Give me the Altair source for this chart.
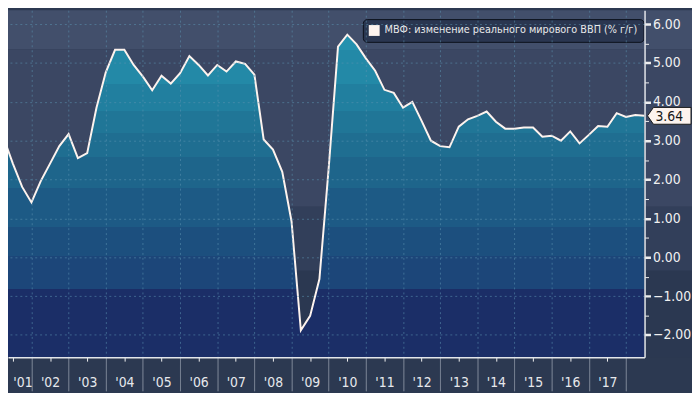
import altair as alt
import pandas as pd

# ---------------- data ----------------
quarter_pos = [2001.00, 2001.25, 2001.50, 2001.75, 2002.00, 2002.25, 2002.50, 2002.75,
               2003.00, 2003.25, 2003.50, 2003.75, 2004.00, 2004.25, 2004.50, 2004.75,
               2005.00, 2005.25, 2005.50, 2005.75, 2006.00, 2006.25, 2006.50, 2006.75,
               2007.00, 2007.25, 2007.50, 2007.75, 2008.00, 2008.25, 2008.50, 2008.75,
               2009.00, 2009.25, 2009.50, 2009.75, 2010.00, 2010.25, 2010.50, 2010.75,
               2011.00, 2011.25, 2011.50, 2011.75, 2012.00, 2012.25, 2012.50, 2012.75,
               2013.00, 2013.25, 2013.50, 2013.75, 2014.00, 2014.25, 2014.50, 2014.75,
               2015.00, 2015.25, 2015.50, 2015.75, 2016.00, 2016.25, 2016.50, 2016.75,
               2017.00, 2017.25, 2017.50, 2017.75, 2018.00, 2018.25, 2018.50]
gdp_growth = [3.70, 3.07, 2.41, 1.81, 1.41, 1.96, 2.41, 2.86,
              3.17, 2.55, 2.68, 3.85, 4.76, 5.34, 5.34, 4.95,
              4.65, 4.30, 4.67, 4.47, 4.74, 5.18, 4.95, 4.68,
              4.95, 4.78, 5.04, 4.98, 4.70, 3.03, 2.77, 2.20,
              0.92, -1.88, -1.51, -0.56, 2.30, 5.42, 5.73, 5.48,
              5.12, 4.80, 4.31, 4.23, 3.85, 4.00, 3.51, 3.00,
              2.86, 2.83, 3.36, 3.55, 3.64, 3.75, 3.49, 3.31,
              3.31, 3.34, 3.34, 3.10, 3.13, 3.00, 3.24, 2.93,
              3.15, 3.38, 3.36, 3.71, 3.61, 3.66, 3.64]
series_name = ["МВФ: изменение реального мирового ВВП (% г/г)"]

x_tick_values = [2001.5 + 0.5 * i for i in range(34)]      # year boundaries + mid-years
y_tick_values = [-2.0 + 0.5 * i for i in range(17)]        # integers + halves

# background bands (value ranges) and area fill bands
bg_hi = [6.36, 5.35, 1.30, -0.35]
bg_lo = [5.35, 1.30, -0.35, -2.58]
bg_col = ["#424f6b", "#3b4763", "#323f5a", "#2b3851"]
fill_edges = [5.34, 4.45, 3.76, 3.20, 2.57, 1.78, 0.79, 0.02, -0.82]
fill_cols = ["#2591ae", "#2389a7", "#217f9f", "#207697", "#1f6e91", "#1e658b",
             "#1d5a85", "#1c4f7e", "#1c4679", "#1b2e67"]

# ---------------- layout ----------------
X_MIN, X_MAX = 2001.369, 2018.5
Y_MIN, Y_MAX = -2.573, 6.359
W, H = 644, 351
FONT = "DejaVu Sans Condensed, DejaVu Sans"

df = pd.DataFrame({"t": quarter_pos, "v": gdp_growth, "series": series_name[0]})
last = df.tail(1).assign(lbl=lambda d: d["v"].map(lambda x: f"{x:.2f}"))
bands = pd.DataFrame({"hi": bg_hi, "lo": bg_lo, "col": bg_col})

xscale = alt.Scale(domain=[X_MIN, X_MAX], nice=False, zero=False)
yscale = alt.Scale(domain=[Y_MIN, Y_MAX], nice=False, zero=False)

is_int = "datum.value % 1 === 0"

xaxis = alt.Axis(
    values=x_tick_values, orient="bottom", title=None,
    domainColor="#e3e6ea", domainWidth=1.5,
    tickSize=34,
    tickColor={"condition": {"test": is_int, "value": "#8e97a6"}, "value": "#f2f2f2"},
    tickDash={"condition": {"test": is_int, "value": [1, 0]}, "value": [4, 60]},
    tickWidth=1,
    grid=True, gridDash=[2, 3], gridColor="#5d93b2",
    gridOpacity={"condition": {"test": is_int, "value": 0.55}, "value": 0},
    labelExpr="datum.value % 1 === 0.5 ? \"'\" + slice(toString(floor(datum.value)), 2) : ''",
    labelAlign={"condition": {"test": "datum.value < 2002", "value": "left"}, "value": "center"},
    labelPadding=-15, labelFont=FONT, labelFontSize=14, labelColor="#e6e8ec",
    labelFlush=False, labelOverlap=False, zindex=1,
)
yaxis = alt.Axis(
    values=y_tick_values, orient="right", title=None,
    domainColor="#e3e6ea", domainWidth=1.5,
    tickSize=6, tickColor="#eeeeee",
    tickWidth={"condition": {"test": is_int, "value": 2.5}, "value": 1},
    tickDash={"condition": {"test": is_int, "value": [1, 0]}, "value": [4, 20]},
    grid=True, gridDash=[2, 3], gridColor="#5d93b2",
    gridOpacity={"condition": {"test": is_int, "value": 0.55}, "value": 0},
    labelExpr="datum.value % 1 === 0 ? format(datum.value, '.2f') : ''",
    labelPadding=2, labelFont=FONT, labelFontSize=14, labelColor="#f0f0f0",
    labelOverlap=False, labelFlush=False, zindex=1,
)

vmax = max(gdp_growth)
def off(v):
    return min(1.0, max(0.0, (vmax - v) / (vmax - Y_MIN)))

stops = [alt.GradientStop(offset=0, color=fill_cols[0])]
for i, e in enumerate(fill_edges):
    stops.append(alt.GradientStop(offset=off(e), color=fill_cols[i]))
    stops.append(alt.GradientStop(offset=off(e), color=fill_cols[i + 1]))
stops.append(alt.GradientStop(offset=1, color=fill_cols[-1]))
grad = alt.Gradient(gradient="linear", stops=stops, x1=0, x2=0, y1=0, y2=1)

X = alt.X("t:Q", scale=xscale, axis=xaxis)
Y = alt.Y("v:Q", scale=yscale, axis=yaxis)

bg = alt.Chart(bands).mark_rect(clip=False).encode(
    x=alt.value(0), x2=alt.value(W + 48),
    y=alt.Y("hi:Q", scale=yscale, axis=yaxis), y2="lo:Q",
    fill=alt.Fill("col:N", scale=None),
)

area = alt.Chart(df).mark_area(color=grad, clip=True, interpolate="linear").encode(
    x=X, y=Y, y2=alt.datum(Y_MIN),
)

line = alt.Chart(df).mark_line(strokeWidth=2, clip=True).encode(
    x=X, y=Y,
    color=alt.Color("series:N", scale=alt.Scale(range=["#fdf3ee"]),
                    legend=alt.Legend(
                        orient="none", legendX=359, legendY=9, title=None,
                        symbolType="square", symbolSize=121,
                        symbolFillColor="#fdf3ee", symbolStrokeColor="#fdf3ee",
                        symbolStrokeWidth=0, symbolOpacity=1,
                        labelFont="DejaVu Sans", labelFontSize=9.8, labelColor="#e9e9ea",
                        labelLimit=500, labelOffset=5,
                        fillColor="#2a3650", strokeColor="#0c111c", cornerRadius=4,
                        padding=6,
                    )),
)

tag = alt.Chart(last).mark_point(
    shape="M3,0 L9,-8.5 L47,-8.5 L47,8.5 L9,8.5 Z", size=4, filled=True,
    fill="#fdf3ee", stroke="#1a1a1a", strokeWidth=1, opacity=1, clip=False,
).encode(x=X, y=Y)

tag_text = alt.Chart(last).mark_text(
    align="left", baseline="middle", dx=11, dy=1, font=FONT, fontSize=14,
    color="#161616", clip=False,
).encode(x=X, y=Y, text="lbl:N")

chart = alt.layer(bg, area, line, tag, tag_text).properties(
    width=W, height=H,
    autosize=alt.AutoSizeParams(type="none"),
    padding={"left": 0, "top": 0, "right": 48, "bottom": 34},
    background="#2c3951",
).configure_view(stroke=None)

chart.save("out.html", embed_options={"renderer": "svg", "actions": False})
